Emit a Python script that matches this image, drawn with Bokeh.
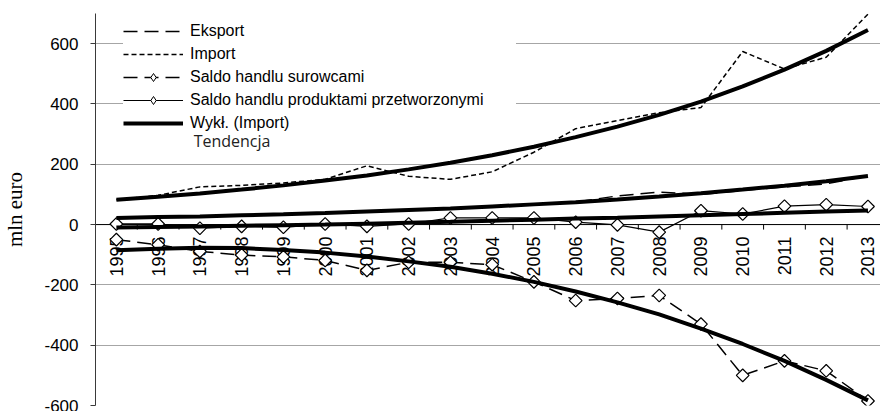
import numpy as np
from bokeh.plotting import figure
from bokeh.models import FixedTicker, Legend, LegendItem, Span, Label, Range1d
from bokeh.core.properties import value
from bokeh.embed import file_html
from bokeh.resources import INLINE

# ---- data ----
years = [str(y) for y in range(1995, 2014)]
eksport = [20, 24, 28, 31, 34, 38, 43, 47, 53, 59, 66, 75, 95, 108, 100, 113, 125, 135, 162]
import_ = [82, 97, 125, 130, 138, 150, 195, 160, 150, 175, 240, 318, 345, 371, 388, 574, 516, 555, 698]
saldo_surowce = [-50, -67, -89, -101, -107, -119, -152, -125, -125, -133, -190, -252, -245, -235, -330, -500, -452, -485, -585]
saldo_produkty = [2, 2, -12, -6, -9, 2, -6, 2, 22, 22, 22, 8, -1, -25, 46, 35, 61, 66, 60]
trend_import = [82, 92, 103, 116, 130, 146, 163, 183, 205, 230, 258, 290, 325, 364, 408, 458, 514, 576, 645]
trend_eksport = [22, 25, 27, 31, 34, 38, 43, 48, 53, 60, 67, 74, 83, 93, 104, 116, 129, 144, 161]
trend_surowce = [-85, -80, -77, -78, -84, -93, -106, -122, -140, -163, -190, -222, -258, -298, -345, -396, -452, -515, -583]
trend_produkty = [-10, -8, -6, -4, -2, 0, 3, 6, 9, 13, 16, 20, 23, 27, 31, 35, 39, 43, 47]
y_ticks = [-600, -400, -200, 0, 200, 400, 600]
y_top = 700

x = list(range(len(years)))

W, H = 880, 411
FRAME_TOP, FRAME_BOTTOM = 13, 6
FRAME_H = H - FRAME_TOP - FRAME_BOTTOM
Y_MIN, Y_MAX = -600, y_top
px_per_unit = FRAME_H / (Y_MAX - Y_MIN)

p = figure(width=W, height=H, output_backend="svg", toolbar_location=None,
           x_range=Range1d(-0.5, 18.3), y_range=Range1d(Y_MIN, Y_MAX),
           min_border=0, min_border_left=92, min_border_right=0,
           min_border_top=FRAME_TOP, min_border_bottom=FRAME_BOTTOM)
p.outline_line_color = None
p.background_fill_color = "white"
p.border_fill_color = "white"

p.xaxis.visible = False
p.xgrid.visible = False

# y axis
p.yaxis.ticker = FixedTicker(ticks=y_ticks)
p.yaxis.major_label_overrides = {t: str(t) for t in y_ticks}
p.yaxis.minor_tick_line_color = None
p.yaxis.major_tick_out = 5
p.yaxis.major_tick_in = 0
p.yaxis.major_label_standoff = 12
p.yaxis.axis_line_color = "#3a3a3a"
p.yaxis.major_tick_line_color = "#3a3a3a"
p.yaxis.major_label_text_font = "Liberation Sans"
p.yaxis.major_label_text_font_size = "17px"
p.yaxis.major_label_text_color = "black"
p.yaxis.axis_label = "mln euro"
p.yaxis.axis_label_text_font = "Liberation Serif"
p.yaxis.axis_label_text_font_size = "21px"
p.yaxis.axis_label_text_font_style = "normal"
p.yaxis.axis_label_text_color = "black"
p.yaxis.axis_label_standoff = 14

p.ygrid.ticker = FixedTicker(ticks=y_ticks + [y_top])
p.ygrid.grid_line_color = "#a6a6a6"
p.ygrid.grid_line_width = 1

# category axis drawn at y = 0
p.add_layout(Span(location=0, dimension="width", line_color="black", line_width=1, level="underlay"))
bounds = [k + 0.5 for k in range(len(years) - 1)]
tick_len = 5 / px_per_unit
p.segment(x0=bounds, y0=[0] * len(bounds), x1=bounds, y1=[-tick_len] * len(bounds),
          line_color="black", line_width=1)
p.text(x=x, y=[0] * len(x), text=years, angle=np.pi / 2, text_align="right",
       text_baseline="middle", y_offset=12, text_font=value("Liberation Sans"),
       text_font_size="18px", text_color="black")

# series
r_eks = p.line(x, eksport, line_color="black", line_width=1.5, line_dash="14 7")
r_imp = p.line(x, import_, line_color="black", line_width=1.5, line_dash="5 3")
r_sur = p.line(x, saldo_surowce, line_color="black", line_width=1.5, line_dash="14 7")
r_pro = p.line(x, saldo_produkty, line_color="black", line_width=1.2)
# small diamonds (used by the legend), hidden under the larger rotated squares
r_sur_d = p.scatter(x, saldo_surowce, marker="diamond", size=8,
                    fill_color="white", line_color="black", line_width=1)
r_pro_d = p.scatter(x, saldo_produkty, marker="diamond", size=8,
                    fill_color="white", line_color="black", line_width=1)
p.scatter(x, saldo_surowce, marker="square", angle=np.pi / 4, size=9,
          fill_color="white", line_color="black", line_width=1.2)
p.scatter(x, saldo_produkty, marker="square", angle=np.pi / 4, size=9,
          fill_color="white", line_color="black", line_width=1.2)

# trend lines
r_ti = p.line(x, trend_import, line_color="black", line_width=4)
p.line(x, trend_eksport, line_color="black", line_width=4)
p.line(x, trend_surowce, line_color="black", line_width=4)
p.line(x, trend_produkty, line_color="black", line_width=4)

legend = Legend(items=[
    LegendItem(label="Eksport", renderers=[r_eks]),
    LegendItem(label="Import", renderers=[r_imp]),
    LegendItem(label="Saldo handlu surowcami", renderers=[r_sur, r_sur_d]),
    LegendItem(label="Saldo handlu produktami przetworzonymi", renderers=[r_pro, r_pro_d]),
    LegendItem(label="Wykł. (Import)", renderers=[r_ti]),
], location=(28, 272), padding=5, spacing=3, margin=0,
    glyph_width=60, glyph_height=20, label_height=20, label_width=326,
    label_standoff=7, label_text_font="Liberation Sans", label_text_font_size="16px",
    label_text_color="black", background_fill_color="white", background_fill_alpha=1.0,
    border_line_color=None)
p.add_layout(legend)

p.add_layout(Label(x=1.85, y=278, text="Tendencja", text_font="Open Sans",
                   text_font_size="16px", text_baseline="middle", text_color="#222222"))

open("out.html", "w").write(file_html(p, INLINE))
